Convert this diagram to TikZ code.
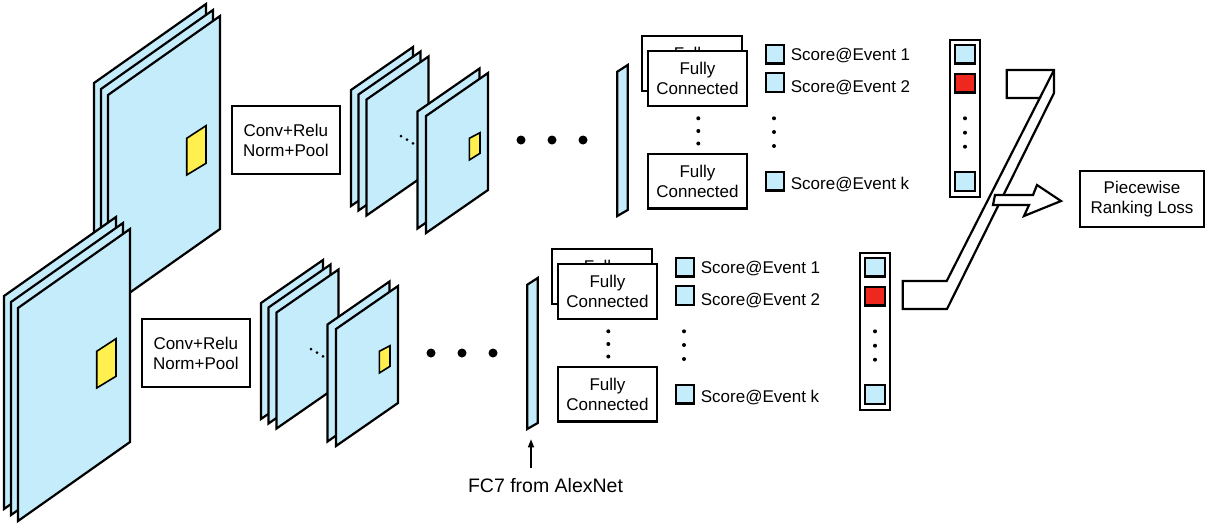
\documentclass[tikz,border=0pt]{standalone}
\usepackage{fontspec}
\setmainfont{Liberation Sans}
\usetikzlibrary{arrows.meta}
\definecolor{sheetblue}{RGB}{197,236,250}
\definecolor{patchyellow}{RGB}{255,240,80}
\definecolor{scorered}{RGB}{238,40,30}
\tikzset{
  sheetfill/.style={draw=black, fill=sheetblue, line width=2.2pt, line join=miter},
  yellowpatch/.style={draw=black, fill=patchyellow, line width=1.6pt},
  boxtxt/.style={draw=black, fill=white, line width=2.2pt, align=center, inner sep=0pt,
    font=\fontsize{17}{19.5}\selectfont},
  sqbox/.style={draw=black, fill=sheetblue, line width=2.2pt, minimum width=18.5pt, minimum height=18.5pt, inner sep=0pt},
  redbox/.style={sqbox, fill=scorered},
  lbl/.style={inner sep=0pt, font=\fontsize{17}{20}\selectfont},
  smalldot/.style={circle, fill=black, inner sep=0pt, minimum size=4pt},
  tinydot/.style={circle, fill=black, inner sep=0pt, minimum size=3pt},
  bigdot/.style={circle, fill=black, inner sep=0pt, minimum size=9pt},
  colbox/.style={draw=black, fill=white, line width=2.2pt, minimum width=30pt, minimum height=157pt, inner sep=0pt},
  pipe/.style={draw=black, fill=white, line width=2.2pt, line join=miter}
}
\newcommand\sheetpg[5]{\draw[sheetfill] (#1,#2) -- ++(#3,-#4) -- ++(0,#5) -- ++(-#3,#4) -- cycle;}
\newcommand\mybranch[2]{%
\begin{scope}[shift={#2}]
  % input image stack
  \sheetpg{94}{83}{112}{79}{213}
  \sheetpg{101}{89}{112}{79}{213}
  \sheetpg{108}{95}{112}{79}{213}
  \draw[yellowpatch] (186.7,138.3) -- (206,125.7) -- (206,163.3) -- (186.7,175) -- cycle;
  \node[boxtxt, minimum width=108pt, minimum height=68pt] (#1conv) at (285.8,140.2) {Conv+Relu\\Norm+Pool};
  % feature map stack A
  \sheetpg{351}{90}{62}{43}{116}
  \sheetpg{358.5}{94.5}{62}{43}{116}
  \sheetpg{366.5}{99.5}{62}{43}{116}
  \node[tinydot] (#1da) at (401,136) {};
  \node[tinydot] (#1db) at (407,139.6) {};
  \node[tinydot] (#1dc) at (413,143.3) {};
  % feature map stack B
  \sheetpg{417.5}{111.5}{62}{43}{117}
  \sheetpg{426}{116}{62}{43}{117}
  \draw[yellowpatch] (469.3,138.3) -- (480,132.7) -- (480,153.3) -- (469.3,160) -- cycle;
  % ellipsis
  \node[bigdot] (#1ba) at (521,140) {};
  \node[bigdot] (#1bb) at (552,140) {};
  \node[bigdot] (#1bc) at (583,140) {};
  % FC7 bar
  \draw[sheetfill] (617.3,71.7) -- (627.7,65) -- (627.7,210) -- (617.3,216) -- cycle;
  % fully connected
  \node[boxtxt, minimum width=100pt, minimum height=55pt] (#1fcback) at (691.7,63.3) {Fully\\Connected};
  \node[boxtxt, minimum width=98.5pt, minimum height=55pt] (#1fcone) at (697.5,78.3) {Fully\\Connected};
  \node[boxtxt, minimum width=98.5pt, minimum height=54.5pt] (#1fck) at (697.5,181.2) {Fully\\Connected};
  \node[smalldot] (#1fda) at (698.3,118.3) {};
  \node[smalldot] (#1fdb) at (698.3,131) {};
  \node[smalldot] (#1fdc) at (698.3,143.5) {};
  % scores
  \node[sqbox] (#1sa) at (775,54.2) {};
  \node[sqbox] (#1sb) at (775,82.5) {};
  \node[sqbox] (#1sk) at (775,181.3) {};
  \node[lbl, anchor=base west] (#1la) at (790.7,60.7) {Score@Event 1};
  \node[lbl, anchor=base west] (#1lb) at (790.7,92.5) {Score@Event 2};
  \node[lbl, anchor=base west] (#1lk) at (790.7,189) {Score@Event k};
  \node[smalldot] (#1sda) at (774,118.3) {};
  \node[smalldot] (#1sdb) at (774,132) {};
  \node[smalldot] (#1sdc) at (774,146) {};
  % score column
  \node[colbox] (#1col) at (965,118.5) {};
  \node[sqbox, minimum width=20pt] (#1ca) at (965,54.2) {};
  \node[redbox, minimum width=20pt] (#1cb) at (965,83.3) {};
  \node[sqbox, minimum width=20pt] (#1ck) at (965,181.5) {};
  \node[smalldot] (#1cda) at (965,118.3) {};
  \node[smalldot] (#1cdb) at (965,132.7) {};
  \node[smalldot] (#1cdc) at (965,146.7) {};
\end{scope}}

\begin{document}
\begin{tikzpicture}[x=1pt, y=-1pt]
  \fill[white] (0,0) rectangle (1207,523);
  \useasboundingbox (0,0) rectangle (1207,523);
  \mybranch{up}{(0,0)}
  \mybranch{lo}{(-90,213)}
  % FC7 label
  \node[inner sep=0pt, font=\fontsize{19.5}{22}\selectfont, anchor=base] (fc7lbl) at (545.5,492.7) {FC7 from AlexNet};
  \coordinate (fc7tail) at (531,468.3);
  \coordinate (fc7head) at (531,439.3);
  \draw[line width=1.5pt, -{Triangle[length=8pt, width=6pt]}] (fc7tail) -- (fc7head);
  % loss
  \node[boxtxt, minimum width=124pt, minimum height=56pt] (loss) at (1142,199.2) {Piecewise\\Ranking Loss};
  % merging pipe
  \draw[pipe] (1006.7,70) -- (1054,70) -- (1054,93) -- (947,309) -- (902.7,309) -- (902.7,281)
    -- (946.7,281) -- (1039.8,98) -- (1006.7,98) -- cycle;
  \draw[line width=2.2pt] (1054,70) -- (1039.8,98);
  % arrow to loss
  \draw[pipe] (995,195) -- (1033,195) -- (1037,185) -- (1061,201) -- (1024,216) -- (1029,205)
    -- (993,205) -- cycle;
\end{tikzpicture}
\end{document}
